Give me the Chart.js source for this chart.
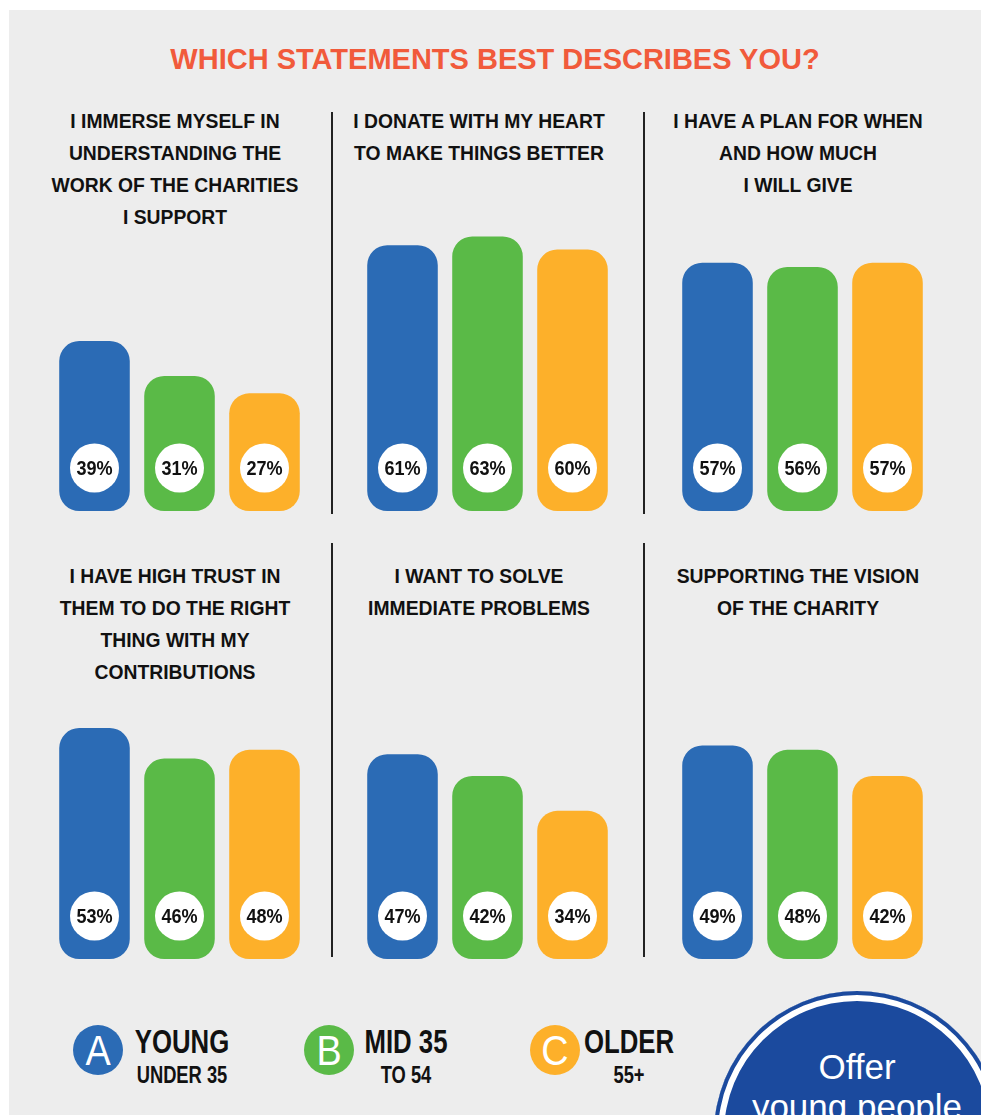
<!DOCTYPE html>
<html>
<head>
<meta charset="utf-8">
<script src="https://cdn.jsdelivr.net/npm/chart.js@4.4.0/dist/chart.umd.min.js"></script>
<style>
  body {
    margin: 0;
    width: 981px;
    height: 1115px;
    overflow: hidden;
    position: relative;
    background: #fff;
    font-family: "Liberation Sans", Arial, sans-serif;
    color: #111;
  }
  .bg { position: absolute; left: 9px; top: 10px; right: 0; bottom: 0; background: #ededed; }
  .heading {
    position: absolute; left: 0; top: 41px; width: 990px; text-align: center;
    font-weight: bold; font-size: 29px; line-height: 36px; color: #f15a3b;
  }
  .st {
    position: absolute; width: 320px; text-align: center;
    font-weight: bold; font-size: 21px; line-height: 32px;
    transform: scaleX(0.92);
  }
  .divider { position: absolute; width: 1.5px; background: #222; }
  canvas { position: absolute; }
  .dot {
    position: absolute; width: 50px; height: 50px; border-radius: 50%;
    color: #fff; text-align: center; font-size: 42px; line-height: 52px;
    transform: scaleX(0.9);
  }
  .dot.round { transform: none; }
  .key { position: absolute; width: 160px; text-align: center; font-weight: bold; transform: scaleX(0.78); }
  .key .big { font-size: 33px; line-height: 36px; }
  .key .small { font-size: 23.5px; line-height: 30px; }
  .badge {
    position: absolute; left: 714px; top: 991px; width: 286px; height: 286px; border-radius: 50%;
    background: #1b4a9e; box-shadow: inset 0 0 0 4px #1b4a9e, inset 0 0 0 10px #fff;
    color: #fff; text-align: center; font-size: 35px; line-height: 40px;
  }
</style>
</head>
<body>
<div class="bg"></div>
<div class="heading">WHICH STATEMENTS BEST DESCRIBES YOU?</div>

<script>
// age groups and survey results (% per statement)
const groups = ['YOUNG', 'MID 35', 'OLDER'];
const statements = [
  ['I IMMERSE MYSELF IN', 'UNDERSTANDING THE', 'WORK OF THE CHARITIES', 'I SUPPORT'],
  ['I DONATE WITH MY HEART', 'TO MAKE THINGS BETTER'],
  ['I HAVE A PLAN FOR WHEN', 'AND HOW MUCH', 'I WILL GIVE'],
  ['I HAVE HIGH TRUST IN', 'THEM TO DO THE RIGHT', 'THING WITH MY', 'CONTRIBUTIONS'],
  ['I WANT TO SOLVE', 'IMMEDIATE PROBLEMS'],
  ['SUPPORTING THE VISION', 'OF THE CHARITY']
];
const young = [39, 61, 57, 53, 47, 49];
const mid = [31, 63, 56, 46, 42, 48];
const older = [27, 60, 57, 48, 34, 42];

const colors = ['#2b6bb5', '#5aba47', '#fdb02a'];

// layout of the 6 panels
const barCenters = [179, 487, 802];
const titleCenters = [175, 479, 798];
const rowBottoms = [511, 959];
const titleTops = [105, 560];

// white circle with the value near the bottom of each bar
const badgePlugin = {
  id: 'badges',
  afterDatasetsDraw(chart) {
    const ctx = chart.ctx;
    const meta = chart.getDatasetMeta(0);
    const y = chart.chartArea.bottom - 43;
    meta.data.forEach(function (bar, i) {
      ctx.save();
      ctx.beginPath();
      ctx.arc(bar.x, y, 24.5, 0, Math.PI * 2);
      ctx.fillStyle = '#fff';
      ctx.fill();
      // squeeze the text a little to look like a condensed face
      ctx.translate(bar.x, y + 1);
      ctx.scale(0.86, 1);
      ctx.fillStyle = '#111';
      ctx.font = 'bold 21px "Liberation Sans", Arial, sans-serif';
      ctx.textAlign = 'center';
      ctx.textBaseline = 'middle';
      ctx.fillText(chart.data.datasets[0].data[i] + '%', 0, 0);
      ctx.restore();
    });
  }
};

statements.forEach(function (lines, i) {
  const col = i % 3;
  const row = Math.floor(i / 3);

  const title = document.createElement('div');
  title.className = 'st';
  title.style.left = (titleCenters[col] - 160) + 'px';
  title.style.top = titleTops[row] + 'px';
  title.innerHTML = lines.join('<br>');
  document.body.appendChild(title);

  const canvas = document.createElement('canvas');
  canvas.width = 255;
  canvas.height = 305;
  canvas.style.left = (barCenters[col] - 127.5) + 'px';
  canvas.style.top = (rowBottoms[row] - 305) + 'px';
  document.body.appendChild(canvas);

  new Chart(canvas, {
    type: 'bar',
    data: {
      labels: groups,
      datasets: [{
        data: [young[i], mid[i], older[i]],
        backgroundColor: colors,
        borderRadius: 20,
        borderSkipped: false,
        categoryPercentage: 1,
        barPercentage: 0.83
      }]
    },
    options: {
      responsive: false,
      animation: false,
      layout: { padding: 0 },
      plugins: {
        legend: { display: false },
        tooltip: { enabled: false }
      },
      scales: {
        x: { display: false },
        y: { display: false, min: 0, max: 70 }
      }
    },
    plugins: [badgePlugin]
  });
});

// vertical dividers between columns
[[331, 112, 402], [643, 112, 402], [331, 543, 414], [643, 543, 414]].forEach(function (d) {
  const line = document.createElement('div');
  line.className = 'divider';
  line.style.left = d[0] + 'px';
  line.style.top = d[1] + 'px';
  line.style.height = d[2] + 'px';
  document.body.appendChild(line);
});

// legend
const letters = ['A', 'B', 'C'];
const subLabels = ['UNDER 35', 'TO 54', '55+'];
const dotCenters = [98, 329, 555];
const keyCenters = [182, 406, 629];
groups.forEach(function (g, i) {
  const disc = document.createElement('div');
  disc.className = 'dot round';
  disc.style.left = (dotCenters[i] - 25) + 'px';
  disc.style.top = '1025px';
  disc.style.background = colors[i];
  document.body.appendChild(disc);

  const letter = document.createElement('div');
  letter.className = 'dot';
  letter.style.left = (dotCenters[i] - 25) + 'px';
  letter.style.top = '1025px';
  letter.textContent = letters[i];
  document.body.appendChild(letter);

  const key = document.createElement('div');
  key.className = 'key';
  key.style.left = (keyCenters[i] - 80) + 'px';
  key.style.top = '1024px';
  key.innerHTML = '<div class="big">' + g + '</div><div class="small">' + subLabels[i] + '</div>';
  document.body.appendChild(key);
});
</script>
<div class="badge"><div style="padding-top:56px">Offer<br>young people</div></div>
</body>
</html>
